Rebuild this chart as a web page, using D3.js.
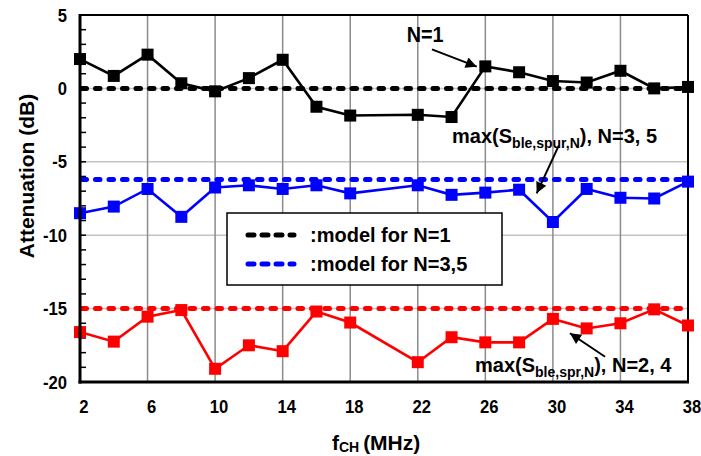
<!DOCTYPE html>
<html>
<head>
<meta charset="utf-8">
<script src="https://cdn.jsdelivr.net/npm/d3@7"></script>
<style>
  body { margin: 0; background: #fff; }
  svg text { font-family: "Liberation Sans", Arial, sans-serif; font-weight: bold; fill: #000; }
</style>
</head>
<body>
<svg width="701" height="456"></svg>
<script>
// channel frequencies (MHz) -- no point at 20
var freqs = [2, 4, 6, 8, 10, 12, 14, 16, 18, 22, 24, 26, 28, 30, 32, 34, 36, 38];
var atten_N1 = [2.0, 0.85, 2.3, 0.35, -0.2, 0.7, 1.95, -1.25, -1.85, -1.8, -1.95, 1.5, 1.1, 0.5, 0.4, 1.2, 0.0, 0.1];
var atten_N35 = [-8.5, -8.05, -6.85, -8.75, -6.75, -6.6, -6.85, -6.6, -7.15, -6.6, -7.25, -7.1, -6.9, -9.1, -6.85, -7.45, -7.5, -6.35];
var atten_N24 = [-16.6, -17.25, -15.55, -15.1, -19.1, -17.5, -17.9, -15.2, -15.95, -18.65, -16.95, -17.3, -17.3, -15.7, -16.35, -16.0, -15.05, -16.15];

// model levels
var model_N1 = 0;
var model_N35 = -6.2;
var model_N24 = -15;

var xTicks = [2, 6, 10, 14, 18, 22, 26, 30, 34, 38];
var yTicks = [5, 0, -5, -10, -15, -20];

var svg = d3.select("svg");
var x = d3.scaleLinear().domain([2, 38]).range([80, 688]);
var y = d3.scaleLinear().domain([-20, 5]).range([382, 15]);

// grid
var grid = svg.append("g");
grid.selectAll("line.hg").data([0, -5, -10, -15]).enter().append("line")
    .attr("x1", x(2)).attr("x2", x(38))
    .attr("y1", function (d) { return y(d); }).attr("y2", function (d) { return y(d); })
    .style("stroke", "#c4c4c4").style("stroke-width", 1.5);
grid.selectAll("line.vg").data(xTicks.slice(1, -1)).enter().append("line")
    .attr("x1", function (d) { return x(d); }).attr("x2", function (d) { return x(d); })
    .attr("y1", y(5)).attr("y2", y(-20))
    .style("stroke", "#8c8c8c").style("stroke-width", 1.5);

// minor ticks on left axis (inside)
grid.selectAll("line.mt").data(d3.range(-19, 5)).enter().append("line")
    .attr("x1", x(2)).attr("x2", x(2) + 6)
    .attr("y1", function (d) { return y(d); }).attr("y2", function (d) { return y(d); })
    .style("stroke", "#000").style("stroke-width", 1.5);

// frame
svg.append("line").attr("x1", x(2)).attr("x2", x(38)).attr("y1", y(5)).attr("y2", y(5))
    .style("stroke", "#000").style("stroke-width", 2);
svg.append("line").attr("x1", x(38)).attr("x2", x(38)).attr("y1", y(5)).attr("y2", y(-20))
    .style("stroke", "#000").style("stroke-width", 2);

// model dashed lines
var models = [[model_N1, "#000"], [model_N35, "#0000ff"], [model_N24, "#ff0000"]];
svg.selectAll("line.model").data(models).enter().append("line")
    .attr("x1", x(2) + 2).attr("x2", x(38))
    .attr("y1", function (d) { return y(d[0]); }).attr("y2", function (d) { return y(d[0]); })
    .style("stroke", function (d) { return d[1]; })
    .style("stroke-width", 5).style("stroke-linecap", "round")
    .style("stroke-dasharray", "4.5 9");

// measured series
var series = [[atten_N24, "#ff0000"], [atten_N35, "#0000ff"], [atten_N1, "#000"]];
var line = d3.line().x(function (d) { return x(d[0]); }).y(function (d) { return y(d[1]); });
series.forEach(function (s) {
    var pts = freqs.map(function (f, i) { return [f, s[0][i]]; });
    svg.append("path").datum(pts).attr("d", line)
        .style("fill", "none").style("stroke", s[1]).style("stroke-width", 2.6);
    svg.selectAll(null).data(pts).enter().append("rect")
        .attr("x", function (d) { return x(d[0]) - 6; })
        .attr("y", function (d) { return y(d[1]) - 6; })
        .attr("width", 12).attr("height", 12)
        .style("fill", s[1]);
});

// axes lines
svg.append("line").attr("x1", x(2)).attr("x2", x(2)).attr("y1", y(5) - 1).attr("y2", y(-20) + 1.5)
    .style("stroke", "#000").style("stroke-width", 3);
svg.append("line").attr("x1", x(2) - 1.5).attr("x2", x(38) + 1).attr("y1", y(-20)).attr("y2", y(-20))
    .style("stroke", "#000").style("stroke-width", 3);

// tick labels (slightly condensed, like the original)
svg.selectAll("text.yt").data(yTicks).enter().append("text")
    .attr("transform", function (d) { return "translate(67," + (y(d) + 6.6) + ") scale(0.9,1)"; })
    .attr("text-anchor", "end").style("font-size", "18.5px")
    .text(function (d) { return d; });
svg.selectAll("text.xt").data(xTicks).enter().append("text")
    .attr("transform", function (d) { return "translate(" + (x(d) + 4) + ",412.5) scale(0.9,1)"; })
    .attr("text-anchor", "middle").style("font-size", "18.5px")
    .text(function (d) { return d; });

// axis titles
svg.append("text").attr("transform", "translate(34,176) rotate(-90)")
    .attr("text-anchor", "middle").style("font-size", "21px")
    .text("Attenuation (dB)");
var xt = svg.append("text").attr("x", 332).attr("y", 450).style("font-size", "21px");
xt.append("tspan").text("f");
xt.append("tspan").attr("dy", 2).style("font-size", "14px").text("CH ");
xt.append("tspan").attr("dy", -2).text("(MHz)");

// legend
var lg = svg.append("g");
lg.append("rect").attr("x", 227).attr("y", 213).attr("width", 275).attr("height", 72)
    .style("fill", "#fff").style("stroke", "#000").style("stroke-width", 1.5);
var legendItems = [[":model for N=1", "#000"], [":model for N=3,5", "#0000ff"]];
legendItems.forEach(function (d, i) {
    var ly = 235 + i * 29;
    lg.append("line").attr("x1", 248).attr("x2", 294).attr("y1", ly).attr("y2", ly)
        .style("stroke", d[1]).style("stroke-width", 5).style("stroke-linecap", "round")
        .style("stroke-dasharray", "6 8");
    lg.append("text").attr("x", 310).attr("y", ly + 7).style("font-size", "20px").text(d[0]);
});

// annotations (data coordinates)
svg.append("defs").append("marker").attr("id", "ah")
    .attr("viewBox", "0 0 10 10").attr("refX", 10).attr("refY", 5)
    .attr("markerWidth", 7).attr("markerHeight", 5.5).attr("markerUnits", "strokeWidth")
    .attr("orient", "auto")
    .append("path").attr("d", "M0,0 L10,5 L0,10 Z").style("fill", "#000");

var arrows = [[22.84, 2.66, 25.49, 1.48], [30.32, -3.97, 29.04, -7.15], [33.09, -18.28, 31.01, -16.68]];
svg.selectAll("line.arr").data(arrows).enter().append("line")
    .attr("x1", function (d) { return x(d[0]); }).attr("y1", function (d) { return y(d[1]); })
    .attr("x2", function (d) { return x(d[2]); }).attr("y2", function (d) { return y(d[3]); })
    .style("stroke", "#000").style("stroke-width", 2).attr("marker-end", "url(#ah)");

svg.append("text").attr("transform", "translate(" + x(21.34) + "," + y(3.13) + ") scale(0.9,1)")
    .style("font-size", "22px").text("N=1");

function maxLabel(xv, yv, sub, tail) {
    var t = svg.append("text").attr("x", x(xv)).attr("y", y(yv)).style("font-size", "20px");
    t.append("tspan").text("max(S");
    t.append("tspan").attr("dy", 5).style("font-size", "14px").text(sub);
    t.append("tspan").attr("dy", -5).text(tail);
}
maxLabel(24.03, -3.74, "ble,spur,N", "), N=3, 5");
maxLabel(25.39, -19.3, "ble,spr,N", "), N=2, 4");
</script>
</body>
</html>
